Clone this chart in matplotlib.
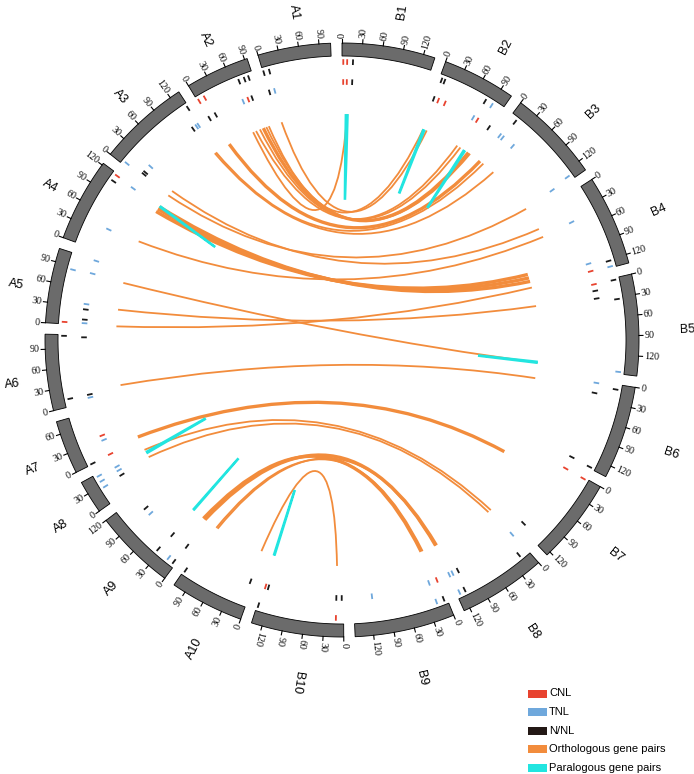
"""
Circos-style view of NBS-LRR genes on the A and B sub-genomes,
with orthologous / paralogous gene pairs drawn as links.
"""

import matplotlib
matplotlib.use("Agg")
import matplotlib.pyplot as plt
import numpy as np
from matplotlib.patches import Polygon, PathPatch, Rectangle
from matplotlib.path import Path


# ---------------------------------------------------------------------------
# data
# ---------------------------------------------------------------------------

# chromosomes in clockwise order starting at 12 o'clock, lengths in Mb
CHROMS = ["B1", "B2", "B3", "B4", "B5", "B6", "B7", "B8", "B9", "B10",
          "A10", "A9", "A8", "A7", "A6", "A5", "A4", "A3", "A2", "A1"]
LENGTHS = [137, 108, 136, 133, 149, 137, 126, 129, 147, 136,
           109, 120, 49, 79, 112, 110, 123, 135, 94, 107]

# gene markers: (chromosome, position Mb, row 0 = outer / 1 = inner)
CNL_MARKERS = [
    ("B1", 2, 0), ("B1", 8, 0), ("B1", 2, 1), ("B1", 8, 1),
    ("A2", 74, 1), ("A2", 2, 0), ("A2", 12, 0),
    ("B2", 11, 1), ("B2", 23, 1), ("B2", 84, 1),
    ("B4", 130, 1), ("B5", 3, 1),
    ("B7", 2, 1), ("B7", 2, 0), ("B9", 4, 1),
    ("B10", 132, 1), ("B10", 12, 0),
    ("A7", 36, 1), ("A7", 2, 1), ("A5", 3, 0), ("A4", 120, 0),
]
TNL_MARKERS = [
    ("A1", 10, 1), ("A2", 65, 1),
    ("B2", 91, 0), ("B2", 76, 1),
    ("B3", 5, 1), ("B3", 11, 1), ("B3", 33, 1), ("B3", 129, 0), ("B3", 132, 1),
    ("B4", 42, 1), ("B4", 117, 1), ("B4", 131, 0),
    ("B5", 146, 0), ("B6", 3, 1),
    ("B8", 2, 1), ("B8", 124, 0), ("B8", 127, 1), ("B8", 121, 1),
    ("B9", 17, 0), ("B9", 18, 1), ("B9", 116, 1),
    ("A9", 84, 1), ("A9", 14, 0),
    ("A8", 44, 1), ("A8", 37, 1), ("A8", 45, 0), ("A8", 36, 0), ("A8", 26, 0),
    ("A7", 28, 1), ("A6", 7, 1),
    ("A5", 109, 1), ("A5", 85, 0), ("A5", 87, 1), ("A5", 35, 1), ("A5", 3, 1),
    ("A4", 119, 1), ("A4", 39, 1),
    ("A3", 128, 1), ("A3", 132, 1), ("A3", 5, 0), ("A3", 26, 1),
]
NNL_MARKERS = [
    ("B1", 17, 0), ("B1", 17, 1),
    ("A1", 1, 0), ("A1", 10, 0), ("A1", 1, 1),
    ("A2", 81, 1), ("A2", 71, 0), ("A2", 80, 0), ("A2", 87, 0),
    ("A2", 2, 1), ("A2", 14, 1),
    ("B2", 3, 1), ("B2", 4, 0), ("B2", 9, 0), ("B2", 79, 0), ("B2", 107, 1),
    ("B3", 11, 0), ("B4", 122, 0),
    ("B5", 3, 0), ("B5", 14, 1), ("B5", 27, 1), ("B5", 33, 0),
    ("B6", 20, 1), ("B6", 8, 0), ("B6", 134, 1), ("B6", 135, 0),
    ("B7", 118, 1),
    ("B8", 15, 0), ("B8", 115, 0), ("B8", 111, 1),
    ("B9", 5, 0),
    ("B10", 127, 1), ("B10", 134, 0), ("B10", 12, 1), ("B10", 3, 1),
    ("A10", 6, 1), ("A10", 107, 0),
    ("A9", 96, 1), ("A9", 33, 1), ("A9", 2, 1), ("A9", 4, 0), ("A9", 35, 0),
    ("A8", 28, 1), ("A7", 1, 0),
    ("A6", 110, 0), ("A6", 108, 1), ("A6", 12, 1), ("A6", 12, 0),
    ("A5", 26, 1), ("A5", 9, 1),
    ("A4", 110, 0),
    ("A3", 133, 0), ("A3", 121, 1), ("A3", 9, 1), ("A3", 13, 1),
]

# gene pairs: (chrom1, pos1, chrom2, pos2)
ORTHO_LINKS = [
    ("A2", 66, "B2", 77), ("A2", 74, "B2", 84), ("A2", 87, "B2", 106),
    ("A2", 92, "B2", 5), ("A1", 7, "B2", 12), ("B1", 10, "A2", 60),
    ("A3", 131, "B3", 13), ("A3", 128, "B3", 38),
    ("A3", 8, "B3", 132), ("A3", 19, "B4", 25), ("A4", 43, "B4", 42),
    ("A5", 85, "B5", 146), ("A5", 33, "B5", 22), ("A5", 1, "B4", 130),
    ("A6", 17, "B6", 15),
    ("A8", 46, "B8", 2), ("A8", 30, "B8", 8),
    ("A10", 104, "B9", 9), ("A10", 101, "B8", 129), ("A10", 7, "B10", 12),
]
ORTHO_LINKS_BOLD = [
    ("A2", 81, "B2", 102), ("A2", 9, "B3", 5),
    ("A4", 120, "B4", 116), ("A4", 115, "B4", 108), ("A4", 109, "B4", 100),
    ("A7", 8, "B7", 37),
    ("A9", 5, "B8", 126), ("A9", 9, "B9", 12),
]
PARA_LINKS = [
    ("B1", 7, "B1", 11), ("B2", 5, "B2", 8), ("B2", 92, "B2", 95),
    ("A4", 120, "A4", 122), ("B5", 144, "B5", 147), ("A8", 38, "A8", 41),
    ("A9", 33, "A9", 35), ("B10", 133, "B10", 135),
]

LEGEND_LABELS = ["CNL", "TNL", "N/NL", "Orthologous gene pairs", "Paralogous gene pairs"]


# ---------------------------------------------------------------------------
# layout / style
# ---------------------------------------------------------------------------

W, H = 694, 774
CX, CY = 342, 340
R_OUT, R_IN = 297, 284
ROW_R = [278, 258]
LINK_R, LINK_R_RIGHT = 226, 197
GAP_DEG = 2.2
K_CTRL = 0.2
# chromosome names sit on a circle shifted a little to the lower right
LAB_CX, LAB_CY, LAB_R = CX + 7, CY + 7, 339

C_RING = "#6b6b6b"
C_CNL = "#e8432f"
C_TNL = "#6fa8dc"
C_NNL = "#1a1a1a"
C_ORTHO = "#f28c3c"
C_PARA = "#22e5e0"

SCALE = (360 - GAP_DEG * len(CHROMS)) / sum(LENGTHS)
START = {}
a = 90.0
for name, ln in zip(CHROMS, LENGTHS):
    START[name] = a
    a -= ln * SCALE + GAP_DEG
CLEN = dict(zip(CHROMS, LENGTHS))


def ang(chrom, pos):
    return START[chrom] - pos * SCALE


def xy(theta, r, cx=CX, cy=CY):
    t = np.deg2rad(theta)
    return cx + r * np.cos(t), cy - r * np.sin(t)


def link_r(chrom, pos):
    # links on the right flank stop further in
    if chrom in ("B5", "B6", "B7") or (chrom == "B4" and pos > 80):
        return LINK_R_RIGHT
    return LINK_R


fig = plt.figure(figsize=(W / 100, H / 100), dpi=100)
ax = fig.add_axes([0, 0, 1, 1])
ax.set_xlim(0, W)
ax.set_ylim(H, 0)
ax.axis("off")

# ---- chromosome ring, ticks and labels
for name in CHROMS:
    t0, t1 = ang(name, 0), ang(name, CLEN[name])
    th = np.linspace(t0, t1, 80)
    ox, oy = xy(th, R_OUT)
    ix, iy = xy(th[::-1], R_IN)
    pts = np.column_stack([np.r_[ox, ix], np.r_[oy, iy]])
    ax.add_patch(Polygon(pts, closed=True, fc=C_RING, ec="black", lw=0.6))

    flip = name.startswith("A")
    for p in range(0, CLEN[name] + 1, 30):
        t = ang(name, p)
        x0, y0 = xy(t, R_OUT)
        x1, y1 = xy(t, R_OUT + 4)
        ax.plot([x0, x1], [y0, y1], color="black", lw=0.8)
        tx, ty = xy(t, R_OUT + 5.5)
        ax.text(tx, ty, str(p), rotation=t + 180 if flip else t,
                rotation_mode="anchor", ha="right" if flip else "left",
                va="center", fontsize=7.2, family="Liberation Serif")

    tm = ang(name, CLEN[name] / 2)
    lx, ly = xy(tm, LAB_R, LAB_CX, LAB_CY)
    ax.text(lx, ly, name, rotation=tm + 180 if flip else tm,
            rotation_mode="anchor", ha="center", va="center",
            fontsize=9, family="Liberation Sans")

# ---- gene markers
for markers, col in [(CNL_MARKERS, C_CNL), (TNL_MARKERS, C_TNL), (NNL_MARKERS, C_NNL)]:
    for chrom, pos, row in markers:
        t = ang(chrom, pos)
        r = ROW_R[row]
        x0, y0 = xy(t, r - 2.8)
        x1, y1 = xy(t, r + 2.8)
        ax.plot([x0, x1], [y0, y1], color=col, lw=1.3, solid_capstyle="butt")


# ---- links
def draw_link(c1, p1, c2, p2, color, lw):
    t1, t2 = np.deg2rad(ang(c1, p1)), np.deg2rad(ang(c2, p2))
    r1, r2 = link_r(c1, p1), link_r(c2, p2)
    a0 = np.array([r1 * np.cos(t1), r1 * np.sin(t1)])
    a2 = np.array([r2 * np.cos(t2), r2 * np.sin(t2)])
    a1 = K_CTRL * (a0 + a2) / 2
    verts = [(CX + v[0], CY - v[1]) for v in (a0, a1, a2)]
    path = Path(verts, [Path.MOVETO, Path.CURVE3, Path.CURVE3])
    ax.add_patch(PathPatch(path, fc="none", ec=color, lw=lw, capstyle="butt"))


for c1, p1, c2, p2 in ORTHO_LINKS:
    draw_link(c1, p1, c2, p2, C_ORTHO, 1.3)
for c1, p1, c2, p2 in ORTHO_LINKS_BOLD:
    draw_link(c1, p1, c2, p2, C_ORTHO, 2.4)
for c1, p1, c2, p2 in PARA_LINKS:
    draw_link(c1, p1, c2, p2, C_PARA, 1.5)

# ---- legend
leg_colors = [C_CNL, C_TNL, "#231815", C_ORTHO, C_PARA]
for i, (lab, col) in enumerate(zip(LEGEND_LABELS, leg_colors)):
    y = 693.5 + i * 18.6
    ax.add_patch(Rectangle((528, y - 4), 19, 8, fc=col, ec="none"))
    ax.text(549, y, lab, va="center", ha="left", fontsize=8,
            family="Liberation Sans")

fig.savefig("out.png", dpi=100)
